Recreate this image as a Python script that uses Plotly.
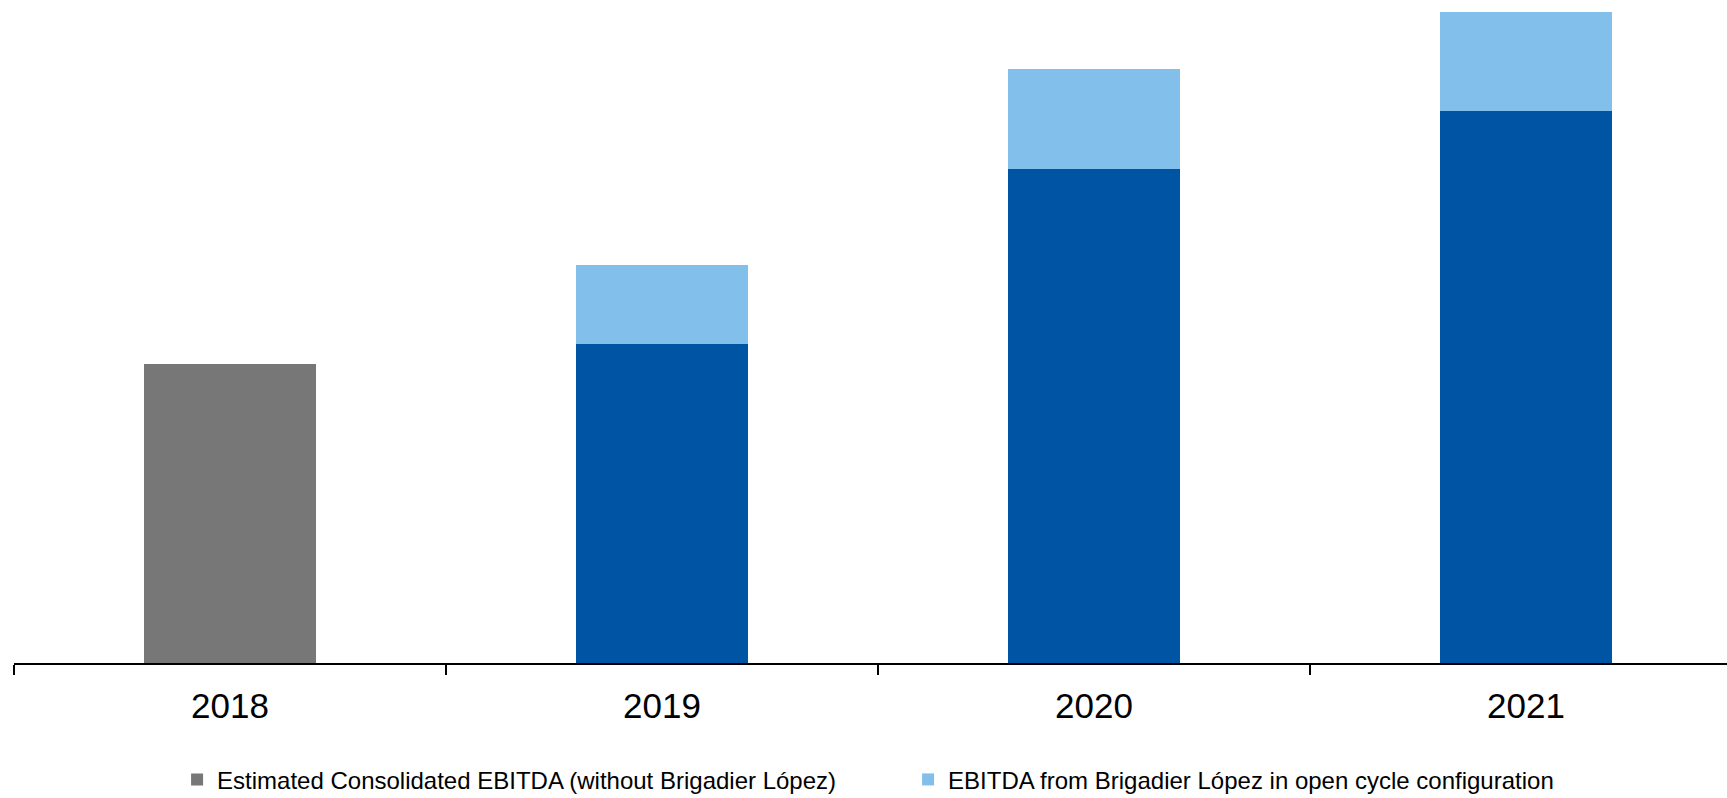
import plotly.graph_objects as go

years = ["2018", "2019", "2020", "2021"]
consolidated = [299, 319, 494, 552]
brigadier = [0, 79, 100, 99]
base_colors = ["#777777", "#0054A4", "#0054A4", "#0054A4"]

fig = go.Figure()
fig.add_trace(go.Bar(
    x=years, y=consolidated,
    name="Estimated Consolidated EBITDA (without Brigadier López)",
    marker=dict(color=base_colors, line=dict(width=0)),
))
fig.add_trace(go.Bar(
    x=years, y=brigadier,
    name="EBITDA from Brigadier López in open cycle configuration",
    marker=dict(color="#82BFEA", line=dict(width=0)),
))

fig.update_layout(
    barmode="stack",
    bargap=0.6,
    width=1727, height=798,
    margin=dict(l=14, r=0, t=3, b=135, autoexpand=False),
    paper_bgcolor="white", plot_bgcolor="white",
    font=dict(family="Liberation Sans, Arial, sans-serif", color="black"),
    showlegend=True,
    legend=dict(
        orientation="h",
        x=0.0952, xanchor="left",
        y=-0.177, yanchor="middle",
        font=dict(size=24, color="black"),
        entrywidth=686,
        traceorder="normal",
        bgcolor="rgba(0,0,0,0)",
    ),
)
fig.update_xaxes(
    type="category",
    range=[-0.5, -0.5 + 1713 / 432],
    showline=True, linecolor="black", linewidth=2,
    ticks="outside", tickson="boundaries", ticklen=10, tickwidth=1.5, tickcolor="black",
    tickfont=dict(size=35, color="black"),
    ticklabelstandoff=11,
    showgrid=False, zeroline=False,
)
fig.update_yaxes(
    range=[0, 660],
    visible=False, showgrid=False, zeroline=False,
)

fig.write_html("out.html")
